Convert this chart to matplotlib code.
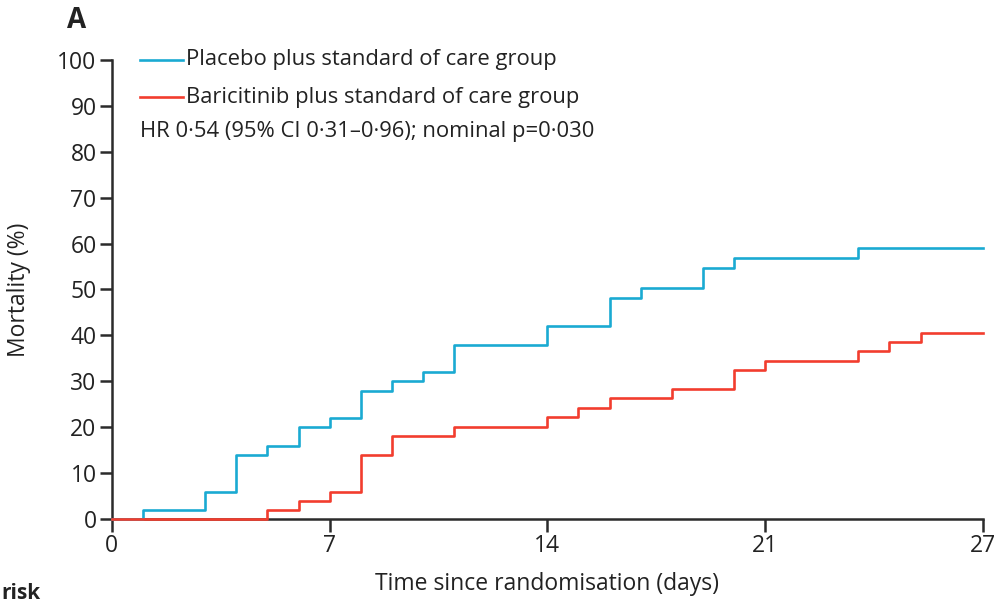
import matplotlib
matplotlib.use("Agg")
import matplotlib.pyplot as plt

# step times (days) and cumulative mortality (%)
placebo_days = [0, 1, 3, 4, 5, 6, 7, 8, 9, 10, 11, 14, 16, 17, 19, 20, 24, 28]
placebo_mort = [0, 2, 6, 14, 16, 20, 22, 28, 30, 32, 38, 42, 48.2, 50.4, 54.7, 56.8, 59, 59]

baricitinib_days = [0, 5, 6, 7, 8, 9, 11, 14, 15, 16, 18, 20, 21, 24, 25, 26, 28]
baricitinib_mort = [0, 2, 4, 6, 14, 18, 20, 22.2, 24.3, 26.3, 28.3, 32.4, 34.4, 36.5, 38.6, 40.6, 40.6]

x_ticks = [0, 7, 14, 21, 28]
x_labels = ["0", "7", "14", "21", "27"]
y_ticks = list(range(0, 101, 10))

blue = "#1aaad2"
red = "#f23d2e"
dark = "#2b2b2b"
txt = "#222222"

plt.rcParams["font.family"] = ["Open Sans", "DejaVu Sans"]

fig = plt.figure(figsize=(10.08, 6.05), dpi=100)
ax = fig.add_axes([0.111, 0.142, 0.864, 0.759])

ax.step(placebo_days, placebo_mort, where="post", color=blue, lw=1.9, clip_on=False, zorder=3)
ax.step(baricitinib_days, baricitinib_mort, where="post", color=red, lw=1.9, clip_on=False, zorder=4)

ax.set_xlim(0, 28)
ax.set_ylim(0, 100)
ax.set_xticks(x_ticks)
ax.set_xticklabels(x_labels)
ax.set_yticks(y_ticks)

for side in ["top", "right"]:
    ax.spines[side].set_visible(False)
for side in ["left", "bottom"]:
    ax.spines[side].set_color(dark)
    ax.spines[side].set_linewidth(1.8)

ax.tick_params(axis="both", direction="out", length=9, width=1.8, color=dark,
               labelsize=16.5, labelcolor=txt, pad=2)

ax.set_ylabel("Mortality (%)", fontsize=16.5, color=txt)
ax.yaxis.set_label_coords(-0.093, 0.5)
ax.set_xlabel("Time since randomisation (days)", fontsize=16.5, color=txt)
ax.xaxis.set_label_coords(0.5, -0.115)

# legend drawn by hand, like the reference
legend_items = [("Placebo plus standard of care group", blue, 60),
                ("Baricitinib plus standard of care group", red, 97)]
for label, col, ypix in legend_items:
    yf = 1 - ypix / 605
    fig.add_artist(plt.Line2D([140 / 1008, 183 / 1008], [yf, yf], color=col, lw=1.9))
    fig.text(186 / 1008, yf, label, fontsize=15.8, color=txt, va="center", ha="left")

fig.text(140 / 1008, 1 - 132 / 605, "HR 0\u00b754 (95% CI 0\u00b731\u20130\u00b796); nominal p=0\u00b7030",
         fontsize=15.8, color=txt, va="center", ha="left")

fig.text(67 / 1008, 1 - 20 / 605, "A", fontsize=20, fontweight="bold", color=txt,
         va="center", ha="left")
fig.text(1 / 1008, 1 - 604 / 605, "risk", fontsize=15, fontweight="bold",
         color=txt, va="bottom", ha="left")

fig.savefig("out.png", dpi=100)
